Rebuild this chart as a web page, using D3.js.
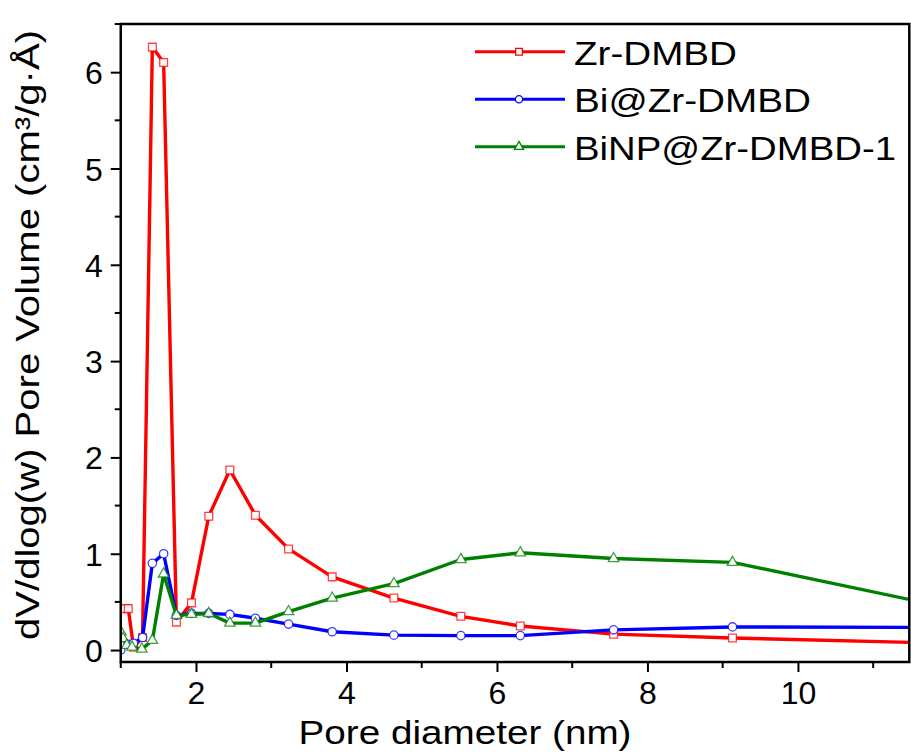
<!DOCTYPE html>
<html>
<head>
<meta charset="utf-8">
<script src="https://cdn.jsdelivr.net/npm/d3@7"></script>
<style>
    body { margin: 0; background: #fff; }
    svg { display: block; font-family: "Liberation Sans", Arial, sans-serif; }
</style>
</head>
<body>
<div id="chart"></div>
<script>
// pore widths (nm) and dV/dlog(w) values
const zrX = [1.05, 1.10, 1.17, 1.29, 1.42, 1.57, 1.74, 1.94, 2.17, 2.45, 2.79, 3.23, 3.81, 4.63, 5.52, 6.31, 7.55, 9.13, 12.0];
const zrY = [0.43, 0.43, 0.03, 0.13, 6.26, 6.10, 0.29, 0.49, 1.39, 1.87, 1.40, 1.05, 0.76, 0.54, 0.35, 0.25, 0.165, 0.125, 0.07];

const biX = [1.00, 1.04, 1.10, 1.17, 1.29, 1.42, 1.57, 1.74, 1.94, 2.17, 2.45, 2.79, 3.23, 3.81, 4.63, 5.52, 6.31, 7.55, 9.13, 12.0];
const biY = [0.00, 0.07, 0.06, 0.07, 0.13, 0.90, 1.00, 0.36, 0.38, 0.38, 0.37, 0.33, 0.27, 0.19, 0.155, 0.15, 0.15, 0.21, 0.24, 0.235];

const npX = [1.00, 1.03, 1.08, 1.15, 1.28, 1.42, 1.57, 1.74, 1.94, 2.17, 2.45, 2.79, 3.23, 3.81, 4.63, 5.52, 6.31, 7.55, 9.13, 12.0];
const npY = [0.19, 0.12, 0.05, 0.03, 0.01, 0.10, 0.79, 0.36, 0.37, 0.38, 0.28, 0.28, 0.40, 0.54, 0.69, 0.94, 1.01, 0.95, 0.91, 0.44];

const seriesNames = ["Zr-DMBD", "Bi@Zr-DMBD", "BiNP@Zr-DMBD-1"];
const seriesColors = ["#ff0000", "#0000ff", "#008000"];
const xTicks = [2, 4, 6, 8, 10];
const yTicks = [0, 1, 2, 3, 4, 5, 6];

const width = 911, height = 753;
const plotLeft = 120.75, plotRight = 909.3, plotTop = 24, plotBottom = 662;

const svg = d3.select("#chart").append("svg")
    .attr("width", width)
    .attr("height", height);

const x = d3.scaleLinear().domain([1, 11.48]).range([plotLeft, plotRight]);
const y = d3.scaleLinear().domain([-0.124, 6.5]).range([plotBottom, plotTop]);

svg.append("defs").append("clipPath").attr("id", "plotClip")
    .append("rect")
    .attr("x", plotLeft).attr("y", plotTop)
    .attr("width", plotRight - plotLeft).attr("height", plotBottom - plotTop);

const series = [
    { name: seriesNames[0], color: seriesColors[0], shape: d3.symbolSquare, size: 60, pts: zrX.map((v, i) => [v, zrY[i]]) },
    { name: seriesNames[1], color: seriesColors[1], shape: d3.symbolCircle, size: 55, pts: biX.map((v, i) => [v, biY[i]]) },
    { name: seriesNames[2], color: seriesColors[2], shape: d3.symbolTriangle, size: 48, pts: npX.map((v, i) => [v, npY[i]]) }
];

const line = d3.line().x(d => x(d[0])).y(d => y(d[1]));

const plot = svg.append("g").attr("clip-path", "url(#plotClip)");

series.forEach(s => {
    plot.append("path")
        .datum(s.pts)
        .attr("fill", "none")
        .attr("stroke", s.color)
        .attr("stroke-width", 3.4)
        .attr("stroke-linejoin", "round")
        .attr("d", line);

    plot.append("g")
        .selectAll("path")
        .data(s.pts)
        .enter().append("path")
        .attr("transform", d => `translate(${x(d[0])},${y(d[1])})`)
        .attr("d", d3.symbol().type(s.shape).size(s.size))
        .attr("fill", "#fff")
        .attr("stroke", s.color)
        .attr("stroke-opacity", 0.75)
        .attr("stroke-width", 1.3);
});

// axes
const xAxis = d3.axisBottom(x)
    .tickValues(xTicks)
    .tickSize(10)
    .tickPadding(9)
    .tickFormat(d3.format("d"));

const yAxis = d3.axisLeft(y)
    .tickValues(yTicks)
    .tickSize(10)
    .tickPadding(8)
    .tickFormat(d3.format("d"));

const gx = svg.append("g").attr("transform", `translate(0,${plotBottom})`).call(xAxis);
const gy = svg.append("g").attr("transform", `translate(${plotLeft},0)`).call(yAxis);

[gx, gy].forEach(g => {
    g.select(".domain").remove();
    g.selectAll(".tick line").attr("stroke", "#000").attr("stroke-width", 2);
    g.selectAll(".tick text")
        .attr("fill", "#000")
        .style("font-size", "32px")
        .style("font-family", "'Liberation Sans', Arial, sans-serif");
});
gx.selectAll(".tick text").attr("dy", "0.72em");
gy.selectAll(".tick text").attr("dy", "0.36em");

// minor ticks
const minorX = [1, 3, 5, 7, 9, 11];
const minorY = [0.5, 1.5, 2.5, 3.5, 4.5, 5.5, 6.5];
svg.append("g").selectAll("line").data(minorX).enter().append("line")
    .attr("x1", d => x(d)).attr("x2", d => x(d))
    .attr("y1", plotBottom).attr("y2", plotBottom + 6)
    .attr("stroke", "#000").attr("stroke-width", 2);
svg.append("g").selectAll("line").data(minorY).enter().append("line")
    .attr("y1", d => y(d)).attr("y2", d => y(d))
    .attr("x1", plotLeft).attr("x2", plotLeft - 6)
    .attr("stroke", "#000").attr("stroke-width", 2);

// frame
svg.append("rect")
    .attr("x", plotLeft).attr("y", plotTop)
    .attr("width", plotRight - plotLeft).attr("height", plotBottom - plotTop)
    .attr("fill", "none")
    .attr("stroke", "#000")
    .attr("stroke-width", 2.5);

// axis titles
svg.append("text")
    .attr("x", 465)
    .attr("y", 744)
    .attr("text-anchor", "middle")
    .attr("textLength", 333)
    .attr("lengthAdjust", "spacingAndGlyphs")
    .style("font-size", "34px")
    .text("Pore diameter (nm)");

svg.append("text")
    .attr("transform", "translate(39,335) rotate(-90)")
    .attr("text-anchor", "middle")
    .attr("textLength", 610)
    .attr("lengthAdjust", "spacingAndGlyphs")
    .style("font-size", "34px")
    .text("dV/dlog(w) Pore Volume (cm³/g·Å)");

// legend
const legendWidths = [163, 237, 322];
const legend = svg.append("g")
    .selectAll("g")
    .data(series)
    .enter().append("g")
    .attr("transform", (d, i) => `translate(475,${51.7 + i * 47.5})`);

legend.append("line")
    .attr("x1", 0).attr("x2", 90)
    .attr("stroke", d => d.color)
    .attr("stroke-width", 3);

legend.append("path")
    .attr("transform", "translate(44,0)")
    .attr("d", d => d3.symbol().type(d.shape).size(d.size * 0.75)())
    .attr("fill", "#fff")
    .attr("stroke", d => d.color)
    .attr("stroke-width", 1.3);

legend.append("text")
    .attr("x", 99)
    .attr("y", 13)
    .attr("textLength", (d, i) => legendWidths[i])
    .attr("lengthAdjust", "spacingAndGlyphs")
    .style("font-size", "34px")
    .text(d => d.name);
</script>
</body>
</html>
